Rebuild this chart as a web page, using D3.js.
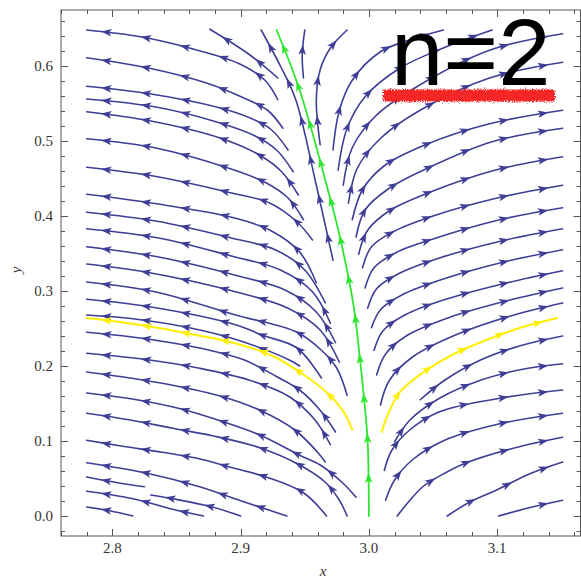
<!DOCTYPE html>
<html>
<head>
<meta charset="utf-8">
<script src="https://cdn.jsdelivr.net/npm/d3@7"></script>
<style>
  html, body { margin: 0; padding: 0; background: #fff; }
  svg { display: block; }
</style>
</head>
<body>
<div id="chart"></div>
<script>
// --- Data: streamlines, [x, y] in flow order (tail -> head) ---
const leftLines = [
  [[2.929,.584],[2.907,.615],[2.876,.649]],
  [[2.972,.341],[2.959,.441],[2.943,.555],[2.931,.600],[2.916,.648]],
  [[2.929,.555],[2.919,.581],[2.899,.603],[2.860,.624],[2.822,.639],[2.780,.648]],
  [[2.933,.517],[2.921,.541],[2.903,.557],[2.874,.577],[2.829,.597],[2.780,.611]],
  [[2.937,.488],[2.924,.515],[2.907,.531],[2.882,.545],[2.829,.563],[2.780,.573]],
  [[2.941,.459],[2.928,.488],[2.911,.507],[2.884,.524],[2.835,.545],[2.780,.556]],
  [[2.945,.428],[2.932,.459],[2.915,.481],[2.884,.504],[2.829,.527],[2.780,.539]],
  [[2.949,.395],[2.937,.424],[2.919,.445],[2.892,.463],[2.833,.491],[2.780,.503]],
  [[2.956,.368],[2.944,.392],[2.923,.417],[2.892,.431],[2.833,.453],[2.780,.465]],
  [[2.959,.311],[2.946,.352],[2.923,.381],[2.896,.397],[2.850,.412],[2.790,.427],[2.780,.429]],
  [[2.966,.284],[2.950,.328],[2.927,.355],[2.892,.371],[2.835,.393],[2.780,.405]],
  [[2.970,.257],[2.956,.299],[2.931,.328],[2.892,.347],[2.835,.371],[2.780,.383]],
  [[2.974,.231],[2.959,.272],[2.935,.301],[2.896,.321],[2.837,.345],[2.780,.359]],
  [[2.977,.205],[2.962,.248],[2.937,.277],[2.896,.299],[2.827,.325],[2.780,.336]],
  [[2.983,.161],[2.975,.197],[2.963,.221],[2.944,.245],[2.896,.268],[2.833,.299],[2.780,.312]],
  [[2.963,.184],[2.944,.224],[2.917,.241],[2.896,.255],[2.829,.279],[2.780,.289]],
  [[2.946,.200],[2.938,.208],[2.897,.235],[2.860,.251],[2.816,.263],[2.780,.268]],
  [[2.974,.112],[2.962,.141],[2.946,.168],[2.929,.185],[2.903,.208],[2.876,.221],[2.846,.231],[2.814,.239],[2.780,.245]],
  [[2.970,.095],[2.958,.128],[2.938,.159],[2.907,.181],[2.868,.197],[2.829,.208],[2.780,.217]],
  [[2.966,.072],[2.960,.085],[2.942,.115],[2.915,.141],[2.886,.159],[2.845,.175],[2.814,.184],[2.780,.192]],
  [[2.990,.025],[2.979,.045],[2.962,.068],[2.946,.081],[2.915,.108],[2.884,.127],[2.853,.143],[2.819,.155],[2.780,.164]],
  [[2.983,0],[2.977,.021],[2.966,.045],[2.946,.068],[2.915,.091],[2.878,.107],[2.847,.117],[2.814,.128],[2.780,.137]],
  [[2.967,0],[2.949,.031],[2.920,.052],[2.892,.065],[2.871,.075],[2.839,.085],[2.808,.093],[2.780,.101]],
  [[2.936,0],[2.899,.021],[2.868,.039],[2.827,.057],[2.780,.071]],
  [[2.825,.039],[2.802,.045],[2.780,.052]],
  [[2.871,0],[2.847,.009],[2.816,.023],[2.780,.033]],
  [[2.900,0],[2.878,.012],[2.847,.023],[2.830,.028]],
  [[2.816,0],[2.798,.007],[2.780,.012]]
];

const rightLines = [
  [[3.101,0],[3.125,.011],[3.151,.021]],
  [[3.061,0],[3.079,.019],[3.100,.035],[3.125,.056],[3.151,.072]],
  [[3.022,0],[3.032,.021],[3.042,.039],[3.059,.057],[3.076,.071],[3.114,.091],[3.151,.105]],
  [[3.013,.021],[3.020,.048],[3.034,.075],[3.059,.101],[3.102,.123],[3.151,.137]],
  [[3.012,.061],[3.018,.088],[3.032,.115],[3.055,.139],[3.102,.157],[3.151,.168]],
  [[3.020,.099],[3.032,.128],[3.055,.157],[3.087,.181],[3.118,.195],[3.151,.203]],
  [[3.040,.155],[3.059,.181],[3.087,.208],[3.118,.227],[3.151,.240]],
  [[3.009,.148],[3.016,.181],[3.034,.212],[3.067,.241],[3.111,.267],[3.151,.284]],
  [[3.006,.188],[3.013,.216],[3.030,.241],[3.063,.265],[3.110,.288],[3.151,.304]],
  [[3.004,.221],[3.011,.247],[3.028,.268],[3.060,.289],[3.108,.311],[3.151,.327]],
  [[3.002,.251],[3.009,.275],[3.026,.295],[3.058,.316],[3.106,.339],[3.151,.355]],
  [[2.999,.277],[3.006,.303],[3.023,.323],[3.055,.344],[3.104,.367],[3.151,.383]],
  [[2.997,.304],[3.004,.331],[3.021,.351],[3.053,.371],[3.102,.395],[3.151,.411]],
  [[2.995,.331],[3.002,.359],[3.019,.379],[3.050,.400],[3.100,.424],[3.151,.441]],
  [[2.992,.349],[2.999,.381],[3.016,.407],[3.048,.432],[3.098,.461],[3.151,.479]],
  [[2.990,.372],[2.997,.408],[3.015,.436],[3.046,.464],[3.096,.499],[3.151,.517]],
  [[2.987,.395],[2.995,.435],[3.012,.467],[3.044,.495],[3.094,.523],[3.151,.541]],
  [[2.984,.417],[2.991,.464],[3.010,.505],[3.044,.545],[3.094,.584],[3.151,.605]],
  [[2.980,.441],[2.987,.491],[3.005,.533],[3.036,.571],[3.094,.621],[3.151,.643]],
  [[2.976,.461],[2.983,.517],[2.997,.559],[3.024,.597],[3.058,.624],[3.096,.648]],
  [[2.972,.488],[2.977,.541],[2.987,.581],[3.009,.619],[3.036,.637],[3.058,.648]],
  [[2.962,.495],[2.959,.555],[2.962,.595],[2.970,.624],[2.983,.648]],
  [[2.949,.584],[2.948,.615],[2.950,.648]]
];

const yellowLines = [
  [[2.987,.115],[2.981,.137],[2.967,.165],[2.946,.192],[2.923,.215],[2.894,.231],[2.866,.241],[2.835,.251],[2.804,.259],[2.780,.264]],
  [[3.010,.112],[3.014,.132],[3.024,.165],[3.042,.191],[3.065,.215],[3.092,.235],[3.118,.251],[3.147,.264]]
];

const greenLine = [[3.000,0],[2.999,.1],[2.996,.16],[2.993,.21],[2.988,.281],[2.977,.375],[2.968,.435],[2.946,.568],[2.928,.648]];

const xMajor = [2.8, 2.9, 3.0, 3.1];
const yMajor = [0.0, 0.1, 0.2, 0.3, 0.4, 0.5, 0.6];
const xLabel = "x", yLabel = "y", caption = "n=2";

// --- Layout ---
const width = 581, height = 578;
const frame = { left: 61, right: 580.5, top: 10, bottom: 536 };

const x = d3.scaleLinear().domain([2.76, 3.165]).range([61, 580.6]);
const y = d3.scaleLinear().domain([0, 0.6]).range([516, 66]);

const svg = d3.select("#chart").append("svg")
  .attr("width", width).attr("height", height);

const defs = svg.append("defs");
const rough = defs.append("filter").attr("id", "rough")
  .attr("filterUnits", "userSpaceOnUse")
  .attr("x", 370).attr("y", 78).attr("width", 200).attr("height", 36);
rough.append("feTurbulence").attr("type", "fractalNoise")
  .attr("baseFrequency", "0.9").attr("numOctaves", 2).attr("seed", 3).attr("result", "n");
rough.append("feDisplacementMap").attr("in", "SourceGraphic").attr("in2", "n")
  .attr("scale", 6).attr("xChannelSelector", "R").attr("yChannelSelector", "G");

defs.append("clipPath").attr("id", "plotclip").append("rect")
  .attr("x", frame.left).attr("y", frame.top)
  .attr("width", frame.right - frame.left).attr("height", frame.bottom - frame.top);

// --- Streamlines ---
const line = d3.line().x(d => x(d[0])).y(d => y(d[1])).curve(d3.curveCatmullRom.alpha(0.5));
const plot = svg.append("g").attr("clip-path", "url(#plotclip)");

function drawStreams(lines, color, width) {
  const g = plot.append("g");
  lines.forEach(pts => {
    const path = g.append("path")
      .attr("d", line(pts))
      .attr("fill", "none")
      .attr("stroke", color)
      .attr("stroke-width", width)
      .attr("stroke-linecap", "round");
    const node = path.node();
    const L = node.getTotalLength();
    const stops = [];
    if (L < 34) stops.push(L * 0.55);
    else for (let s = L - 20; s > 10; s -= 40) stops.push(s);
    stops.forEach(s => {
      const p = node.getPointAtLength(s);
      const a = node.getPointAtLength(Math.max(0, s - 2));
      const b = node.getPointAtLength(Math.min(L, s + 2));
      let dx = b.x - a.x, dy = b.y - a.y;
      const n = Math.hypot(dx, dy) || 1;
      dx /= n; dy /= n;
      const tip = [p.x + dx * 5.5, p.y + dy * 5.5];
      const bx = p.x - dx * 5, by = p.y - dy * 5;
      g.append("path")
        .attr("d", `M${tip[0]},${tip[1]}L${bx - dy * 3.8},${by + dx * 3.8}L${p.x - dx * 2.5},${p.y - dy * 2.5}L${bx + dy * 3.8},${by - dx * 3.8}Z`)
        .attr("fill", color);
    });
  });
}

drawStreams(leftLines, "#3e3e96", 1.6);
drawStreams(rightLines, "#3e3e96", 1.6);
drawStreams(yellowLines, "#ffee00", 2);
drawStreams([greenLine], "#2ee62e", 1.8);

// --- Frame and ticks ---
const axisColor = "#555";
svg.append("rect")
  .attr("x", frame.left).attr("y", frame.top)
  .attr("width", frame.right - frame.left).attr("height", frame.bottom - frame.top)
  .attr("fill", "none").attr("stroke", axisColor).attr("stroke-width", 1);

const xMinor = d3.range(2.76, 3.17, 0.02).map(v => +v.toFixed(2));
const yMinor = d3.range(-0.02, 0.67, 0.02).map(v => +v.toFixed(2));
const ticks = svg.append("g").attr("stroke", axisColor).attr("stroke-width", 1);
xMinor.forEach(v => {
  const isMajor = xMajor.some(m => Math.abs(m - v) < 1e-6);
  const len = isMajor ? 7 : 4, px = Math.round(x(v)) + 0.5;
  ticks.append("line").attr("x1", px).attr("x2", px).attr("y1", frame.bottom).attr("y2", frame.bottom - len);
  ticks.append("line").attr("x1", px).attr("x2", px).attr("y1", frame.top).attr("y2", frame.top + len);
});
yMinor.forEach(v => {
  const isMajor = yMajor.some(m => Math.abs(m - v) < 1e-6);
  const len = isMajor ? 7 : 4, py = Math.round(y(v)) + 0.5;
  ticks.append("line").attr("y1", py).attr("y2", py).attr("x1", frame.left).attr("x2", frame.left + len);
  ticks.append("line").attr("y1", py).attr("y2", py).attr("x1", frame.right).attr("x2", frame.right - len);
});

const labelFont = "'Liberation Serif', 'Times New Roman', serif";
svg.append("g").selectAll("text").data(xMajor).join("text")
  .attr("x", d => x(d)).attr("y", 553)
  .attr("text-anchor", "middle")
  .attr("font-family", labelFont).attr("font-size", 15).attr("fill", "#333")
  .text(d => d.toFixed(1));
svg.append("g").selectAll("text").data(yMajor).join("text")
  .attr("x", 53).attr("y", d => y(d) + 5)
  .attr("text-anchor", "end")
  .attr("font-family", labelFont).attr("font-size", 15).attr("fill", "#333")
  .text(d => d.toFixed(1));

svg.append("text").attr("x", 323).attr("y", 576)
  .attr("text-anchor", "middle").attr("font-family", labelFont)
  .attr("font-style", "italic").attr("font-size", 15).attr("fill", "#333").text(xLabel);
svg.append("text").attr("transform", "translate(21,270) rotate(-90)")
  .attr("text-anchor", "middle").attr("font-family", labelFont)
  .attr("font-style", "italic").attr("font-size", 15).attr("fill", "#333").text(yLabel);

// --- Annotation ---
svg.append("rect")
  .attr("x", 383).attr("y", 89.5).attr("width", 172).attr("height", 12).attr("rx", 3)
  .attr("fill", "#f52626")
  .attr("filter", "url(#rough)");
svg.append("text").attr("x", 391).attr("y", 85)
  .attr("font-family", "'Liberation Sans', Arial, sans-serif")
  .attr("font-size", 94).attr("fill", "#000").text(caption);
</script>
</body>
</html>
